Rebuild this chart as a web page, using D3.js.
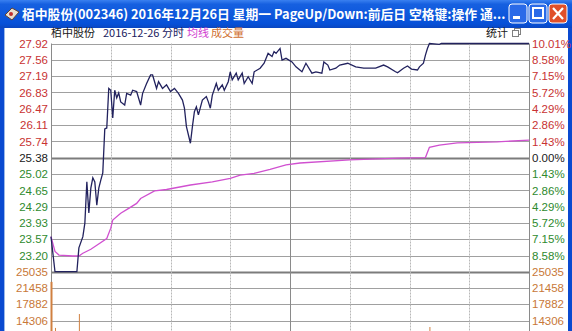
<!DOCTYPE html>
<html>
<head>
<meta charset="utf-8">
<script src="https://cdn.jsdelivr.net/npm/d3@7"></script>
<style>
  body { margin: 0; background: #fff; overflow: hidden; }
  svg text { font-family: "Liberation Sans", Arial, sans-serif; }
</style>
</head>
<body>
<svg id="chart" width="572" height="331"></svg>
<script>
// minute index (0..240) and price of the intraday line
const priceMinutes = [0, 2, 13, 14, 16, 17, 18, 19, 20, 21, 22, 23, 24, 25, 26, 27, 28, 29, 30, 31, 32, 33, 34, 35, 37, 38, 40, 41, 43, 45, 46, 48, 50, 51, 53, 54, 56, 58, 60, 62, 64, 66, 67, 68, 70, 71, 72, 73, 74, 76, 78, 79, 80, 81, 83, 84, 86, 87, 89, 90, 91, 93, 94, 96, 97, 99, 101, 102, 105, 107, 109, 111, 112, 113, 115, 116, 118, 121, 123, 126, 128, 131, 133, 136, 137, 139, 140, 143, 145, 149, 153, 157, 163, 167, 169, 173, 174, 177, 179, 181, 184, 185, 187, 188, 189, 190, 195, 196, 240];
const prices = [23.62, 22.84, 22.84, 23.37, 23.62, 23.92, 24.84, 24.15, 24.70, 24.93, 24.84, 24.32, 24.70, 24.88, 25.04, 26.02, 26.04, 26.92, 26.88, 26.26, 26.88, 26.71, 26.82, 26.62, 26.55, 26.81, 26.77, 26.88, 26.85, 26.55, 26.81, 27.03, 27.22, 27.22, 26.92, 27.07, 26.92, 27.00, 26.85, 26.92, 26.81, 26.66, 26.48, 26.07, 25.70, 26.07, 26.40, 26.51, 26.33, 26.66, 26.74, 26.62, 26.48, 26.77, 27.03, 26.88, 27.00, 26.88, 27.07, 27.29, 27.11, 27.26, 27.11, 27.26, 27.03, 27.18, 27.03, 27.29, 27.37, 27.48, 27.70, 27.63, 27.74, 27.70, 27.81, 27.55, 27.59, 27.51, 27.40, 27.29, 27.48, 27.26, 27.29, 27.26, 27.51, 27.44, 27.33, 27.37, 27.44, 27.48, 27.40, 27.37, 27.37, 27.44, 27.40, 27.29, 27.27, 27.37, 27.42, 27.35, 27.33, 27.40, 27.48, 27.66, 27.81, 27.92, 27.90, 27.92, 27.92];

// average price line
const avgMinutes = [0, 2, 4, 11, 14, 16, 20, 23, 28, 30, 31, 35, 39, 43, 45, 52, 58, 70, 81, 90, 95, 102, 110, 118, 125, 150, 175, 188, 190, 195, 204, 224, 240];
const avgPrices = [23.62, 23.29, 23.21, 23.19, 23.19, 23.25, 23.34, 23.43, 23.58, 23.81, 23.99, 24.14, 24.25, 24.36, 24.47, 24.64, 24.67, 24.77, 24.84, 24.92, 24.99, 25.03, 25.12, 25.22, 25.26, 25.33, 25.37, 25.38, 25.61, 25.66, 25.71, 25.73, 25.77];

// volume bars that reach into the visible part of the volume panel
const volMinutes = [0, 2, 14, 190];
const volumes = [22800, 12700, 15750, 12900];

const prevClose = 25.38;
const priceTicks = [27.92, 27.56, 27.19, 26.83, 26.47, 26.11, 25.74, 25.38, 25.02, 24.65, 24.29, 23.93, 23.57, 23.20];
const pctTicks = ["10.01%", "8.58%", "7.15%", "5.72%", "4.29%", "2.86%", "1.43%", "0.00%", "1.43%", "2.86%", "4.29%", "5.72%", "7.15%", "8.58%"];
const volTicks = [25035, 21458, 17882, 14306];
const timeTicks = [30, 60, 90, 120, 150, 180, 210];

const svg = d3.select("#chart");
const plotLeft = 51, plotRight = 529, plotTop = 43.5, split = 271.7;
const cjk = "'Noto Sans CJK SC', sans-serif";

const x = d3.scaleLinear().domain([0, 240]).range([plotLeft, plotRight]);
const yPrice = d3.scaleLinear().domain([22.84, 27.92]).range([split, plotTop]);
const yVol = d3.scaleLinear().domain([0, 25035]).range([split + 7 * 16.3, split]);

function tickColor(v) {
  if (Math.abs(v - prevClose) < 0.001) return "#202020";
  return v > prevClose ? "#c83232" : "#2e8a2e";
}

// window frame + title bar
const grad = svg.append("defs").append("linearGradient")
    .attr("id", "tb").attr("x1", 0).attr("y1", 0).attr("x2", 0).attr("y2", 1);
grad.append("stop").attr("offset", "0%").attr("stop-color", "#3a80f0");
grad.append("stop").attr("offset", "15%").attr("stop-color", "#1660e0");
grad.append("stop").attr("offset", "85%").attr("stop-color", "#0650d8");
grad.append("stop").attr("offset", "100%").attr("stop-color", "#0a46c0");

svg.append("rect").attr("x", 0).attr("y", 0).attr("width", 572).attr("height", 331).attr("fill", "#0a4ad0");
svg.append("rect").attr("x", 0).attr("y", 0).attr("width", 572).attr("height", 28).attr("fill", "url(#tb)");
svg.append("rect").attr("x", 4).attr("y", 28).attr("width", 564).attr("height", 303).attr("fill", "#fff");
svg.append("line").attr("x1", 4.5).attr("x2", 4.5).attr("y1", 28).attr("y2", 331).attr("stroke", "#9ab8e8");

// title icon
svg.append("path").attr("d", "M5,15 L12,8 L19,12 L12,20 Z").attr("fill", "#e8e0d0").attr("stroke", "#604030");
svg.append("circle").attr("cx", 11).attr("cy", 14).attr("r", 2).attr("fill", "#c03030");

svg.append("text").attr("x", 22).attr("y", 19)
    .attr("fill", "#fff").attr("font-size", 12.8).attr("font-weight", "bold")
    .style("font-family", cjk)
    .text("栢中股份(002346) 2016年12月26日 星期一 PageUp/Down:前后日 空格键:操作 通...");

// title buttons
[[509, "#2a6ae8"], [529, "#2a6ae8"], [549, "#e0502a"]].forEach(function(b) {
  svg.append("rect").attr("x", b[0]).attr("y", 4).attr("width", 18).attr("height", 19)
      .attr("rx", 3).attr("fill", b[1]).attr("stroke", "#fff");
});
svg.append("rect").attr("x", 513).attr("y", 16).attr("width", 7).attr("height", 3).attr("fill", "#fff");
svg.append("rect").attr("x", 533).attr("y", 8).attr("width", 10).attr("height", 10)
    .attr("fill", "none").attr("stroke", "#fff").attr("stroke-width", 2);
svg.append("path").attr("d", "M553,8 L563,19 M563,8 L553,19").attr("stroke", "#fff").attr("stroke-width", 2.2);

// header line
const header = svg.append("text").attr("x", 51).attr("y", 37).attr("font-size", 11)
    .style("font-family", cjk);
header.append("tspan").attr("fill", "#202020").text("栢中股份");
header.append("tspan").attr("dx", 8).attr("fill", "#202060").text("2016-12-26 分时");
header.append("tspan").attr("dx", 3).attr("fill", "#d040d0").text("均线");
header.append("tspan").attr("dx", 2).attr("fill", "#d07030").text("成交量");
svg.append("text").attr("x", 486).attr("y", 37).attr("font-size", 11).attr("fill", "#202020")
    .style("font-family", cjk).text("统计");
svg.append("rect").attr("x", 514.5).attr("y", 28.5).attr("width", 6).attr("height", 6).attr("fill", "#fff").attr("stroke", "#808080");
svg.append("rect").attr("x", 512.5).attr("y", 30.5).attr("width", 6).attr("height", 6).attr("fill", "#fff").attr("stroke", "#808080");

// horizontal grid
const gridY = priceTicks.map(yPrice).concat(volTicks.map(yVol));
svg.append("g").selectAll("line").data(gridY).join("line")
    .attr("x1", plotLeft).attr("x2", plotRight)
    .attr("y1", function(d) { return Math.round(d) + 0.5; })
    .attr("y2", function(d) { return Math.round(d) + 0.5; })
    .attr("stroke", "#a0a0a0").attr("stroke-width", 1);
[yPrice(prevClose), yVol(25035)].forEach(function(d) {
  svg.append("line").attr("x1", plotLeft).attr("x2", plotRight)
      .attr("y1", Math.round(d) + 0.5).attr("y2", Math.round(d) + 0.5)
      .attr("stroke", "#7c7c7c").attr("stroke-width", 2);
});

// vertical grid
svg.append("g").selectAll("line").data(timeTicks).join("line")
    .attr("x1", function(d) { return Math.round(x(d)) + 0.5; })
    .attr("x2", function(d) { return Math.round(x(d)) + 0.5; })
    .attr("y1", plotTop).attr("y2", 331)
    .attr("stroke", function(d) { return d === 120 ? "#8a8a8a" : "#b8b8b8"; })
    .attr("stroke-dasharray", function(d) { return d === 120 ? null : "2,1"; });
[plotLeft, plotRight].forEach(function(px) {
  svg.append("line").attr("x1", px + 0.5).attr("x2", px + 0.5).attr("y1", plotTop).attr("y2", 331)
      .attr("stroke", "#8a8a8a");
});

// volume bars
svg.append("g").selectAll("line").data(volMinutes).join("line")
    .attr("x1", function(d) { return x(d) + 0.5; })
    .attr("x2", function(d) { return x(d) + 0.5; })
    .attr("y1", function(d, i) { return yVol(volumes[i]); })
    .attr("y2", yVol(0))
    .attr("stroke", "#d08040")
    .attr("stroke-width", function(d) { return d === 0 ? 2 : 1; });

// average line
const avgLine = d3.line()
    .x(function(d) { return x(d); })
    .y(function(d, i) { return yPrice(avgPrices[i]); });
svg.append("path").attr("d", avgLine(avgMinutes))
    .attr("fill", "none").attr("stroke", "#d050d0").attr("stroke-width", 1.3);

// price line
const priceLine = d3.line()
    .x(function(d) { return x(d); })
    .y(function(d, i) { return yPrice(prices[i]); });
svg.append("path").attr("d", priceLine(priceMinutes))
    .attr("fill", "none").attr("stroke", "#22225e").attr("stroke-width", 1.3);

// left price axis
const leftAxis = svg.append("g").attr("transform", "translate(" + plotLeft + ",0)")
    .call(d3.axisLeft(yPrice).tickValues(priceTicks).tickSize(0).tickPadding(3).tickFormat(d3.format(".2f")));
leftAxis.select(".domain").remove();
leftAxis.selectAll("text").attr("font-size", 11.5)
    .style("font-family", "'Liberation Sans', Arial, sans-serif")
    .attr("fill", function(d) { return tickColor(d); });

// left volume axis
const volAxis = svg.append("g").attr("transform", "translate(" + plotLeft + ",0)")
    .call(d3.axisLeft(yVol).tickValues(volTicks).tickSize(0).tickPadding(3).tickFormat(d3.format("d")));
volAxis.select(".domain").remove();
volAxis.selectAll("text").attr("font-size", 11.5)
    .style("font-family", "'Liberation Sans', Arial, sans-serif").attr("fill", "#c87838");

// right percent axis
const rightAxis = svg.append("g").attr("transform", "translate(" + plotRight + ",0)")
    .call(d3.axisRight(yPrice).tickValues(priceTicks).tickSize(0).tickPadding(3)
      .tickFormat(function(d, i) { return pctTicks[i]; }));
rightAxis.select(".domain").remove();
rightAxis.selectAll("text").attr("font-size", 11.5)
    .style("font-family", "'Liberation Sans', Arial, sans-serif")
    .attr("fill", function(d) { return tickColor(d); });

// right volume axis
const rightVol = svg.append("g").attr("transform", "translate(" + plotRight + ",0)")
    .call(d3.axisRight(yVol).tickValues(volTicks).tickSize(0).tickPadding(3).tickFormat(d3.format("d")));
rightVol.select(".domain").remove();
rightVol.selectAll("text").attr("font-size", 11.5)
    .style("font-family", "'Liberation Sans', Arial, sans-serif").attr("fill", "#c87838");
</script>
</body>
</html>
